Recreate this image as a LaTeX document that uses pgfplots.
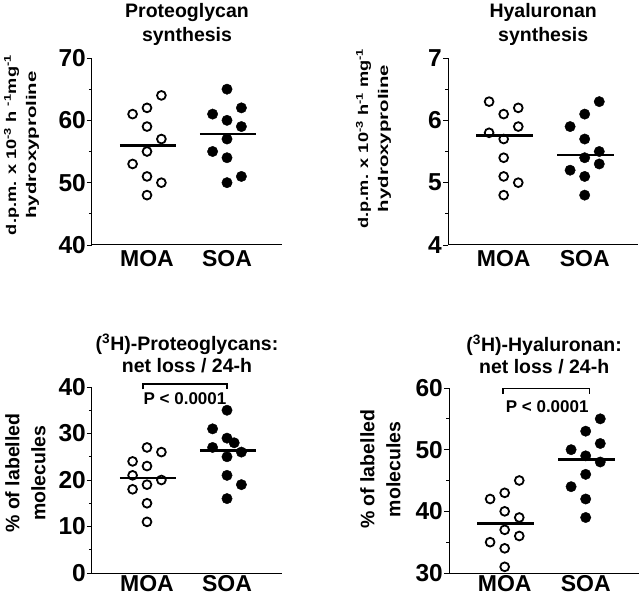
\documentclass[border=0pt]{standalone}
\usepackage{fontspec}
\setmainfont{Liberation Sans}
\usepackage{graphicx}
\usepackage{pgfplots}
\pgfplotsset{compat=1.18}

\pgfplotsset{
  dot/.style={
    scale only axis, clip=false,
    xmin=0.3125,
    axis x line*=bottom, axis y line*=left,
    axis line style={line width=1pt, -},
    xtick={1,2}, xticklabels={MOA,SOA},
    xtick style={draw=none},
    tick align=outside,
    major tick length=5pt, minor tick length=3pt,
    ytick style={line width=0.9pt, black},
    minor y tick num=1,
    /pgf/number format/assume math mode=true,
    yticklabel style={font=\fontsize{24.5}{27}\selectfont\bfseries, inner sep=1pt},
    xticklabel style={font=\fontsize{23}{26}\selectfont\bfseries, inner sep=0pt},
    every axis title/.style={at={(0.5,1)}, anchor=south, inner sep=0pt,
      align=center, font=\fontsize{19.5}{24}\selectfont\bfseries},
  },
  moa/.style={only marks, mark=o, mark size=4.4pt, black,
    mark options={line width=1.8pt}},
  soa/.style={only marks, mark=*, mark size=5.2pt, black,
    mark options={fill=black}},
  med/.style={black, line width=2.5pt, no marks},
  brk/.style={black, line width=1.5pt, no marks, sharp plot},
}

\begin{document}
\begin{tikzpicture}
\useasboundingbox (0pt,0pt) rectangle (640pt,595pt);

% top left: proteoglycan synthesis
\begin{axis}[dot, at={(92pt,350pt)}, width=190pt, height=187pt,
  xmax=2.6875, ymin=40, ymax=70, ytick={40,50,60,70},
  title={Proteoglycan\\synthesis},
  title style={yshift=12pt},
  ylabel={\scalebox{1.3}[1]{\begin{tabular}{@{}c@{}}d.p.m. x 10\textsuperscript{-3} h \textsuperscript{-1}mg\textsuperscript{-1}\\\scalebox{1.12}[1]{hydroxyproline}\end{tabular}}},
  ylabel style={at={(axis description cs:-0.368,0.535)}, anchor=center,
    font=\fontsize{14}{20}\selectfont\bfseries}]
  \addplot[moa] coordinates {(0.82,61)(1,62)(1.18,64)(1,59)(1.18,57)(1,55)(0.82,53)(1,51)(1.18,50)(1,48)};
  \addplot[soa] coordinates {(2,65)(1.82,61)(2.18,62)(2,60)(2.18,59)(2,57)(1.82,55)(2,54)(2.18,51)(2,50)};
  \addplot[med] coordinates {(0.66,56)(1.36,56)};
  \addplot[med] coordinates {(1.66,57.8)(2.36,57.8)};
\end{axis}

% top right: hyaluronan synthesis
\begin{axis}[dot, at={(448pt,350pt)}, width=188pt, height=187pt,
  xmax=2.6625, ymin=4, ymax=7, ytick={4,5,6,7},
  title={Hyaluronan\\synthesis},
  title style={yshift=12pt},
  ylabel={\scalebox{1.3}[1]{\begin{tabular}{@{}c@{}}d.p.m. x 10\textsuperscript{-3} h\textsuperscript{-1} mg\textsuperscript{-1}\\\scalebox{1.12}[1]{hydroxyproline}\end{tabular}}},
  ylabel style={at={(axis description cs:-0.388,0.57)}, anchor=center,
    font=\fontsize{14}{20}\selectfont\bfseries}]
  \addplot[moa] coordinates {(0.82,6.3)(1,6.1)(1.18,6.2)(0.82,5.8)(1.18,5.9)(1,5.7)(1,5.4)(1,5.1)(1.18,5.0)(1,4.8)};
  \addplot[soa] coordinates {(2.18,6.3)(2,6.1)(1.82,5.9)(2,5.7)(2.18,5.5)(2,5.4)(2.18,5.3)(1.82,5.2)(2,5.1)(2,4.8)};
  \addplot[med] coordinates {(0.66,5.76)(1.36,5.76)};
  \addplot[med] coordinates {(1.66,5.44)(2.36,5.44)};
\end{axis}

% bottom left: proteoglycan loss
\begin{axis}[dot, at={(92pt,22pt)}, width=190pt, height=186pt,
  xmax=2.6875, ymin=0, ymax=40, ytick={0,10,20,30,40},
  xticklabel style={yshift=3pt},
  title={(\textsuperscript{3}H)-Proteoglycans:\\net loss / 24-h},
  title style={yshift=14pt, font=\fontsize{19.5}{21.5}\selectfont\bfseries},
  ylabel={\% of labelled\\molecules},
  ylabel style={at={(axis description cs:-0.35,0.537)}, anchor=center,
    align=center, font=\fontsize{19.5}{26}\selectfont\bfseries}]
  \addplot[moa] coordinates {(1,27)(1.18,26)(0.82,24)(1,23)(0.82,21)(1.18,20)(1,19)(0.82,18)(1,15)(1,11)};
  \addplot[soa] coordinates {(2,35)(1.82,31)(2,29)(2.09,28)(1.82,27)(2.18,26)(2,25)(2,21)(2.18,19)(2,16)};
  \addplot[med] coordinates {(0.66,20.45)(1.36,20.45)};
  \addplot[med] coordinates {(1.66,26.3)(2.36,26.3)};
  \addplot[brk] coordinates {(0.95,39.5)(0.95,40.6)(2,40.6)(2,39.5)};
  \node[font=\fontsize{17}{20}\selectfont\bfseries] at (axis cs:1.475,37.4) {P < 0.0001};
\end{axis}

% bottom right: hyaluronan loss
\begin{axis}[dot, at={(449pt,22pt)}, width=188pt, height=185pt,
  xmax=2.6625, ymin=30, ymax=60, ytick={30,40,50,60},
  xticklabel style={yshift=3pt},
  title={(\textsuperscript{3}H)-Hyaluronan:\\net loss / 24-h},
  title style={yshift=14pt, font=\fontsize{19.5}{21.5}\selectfont\bfseries},
  ylabel={\% of labelled\\molecules},
  ylabel style={at={(axis description cs:-0.36,0.56)}, anchor=center,
    align=center, font=\fontsize{19.5}{26}\selectfont\bfseries}]
  \addplot[moa] coordinates {(1.18,45)(1,43)(0.82,42)(1,40)(1.18,39)(1,37)(1.18,36)(0.82,35)(1,34)(1,31)};
  \addplot[soa] coordinates {(2.18,55)(2,53)(2.18,51)(1.82,50)(2,49)(2.18,48)(2,46)(1.82,44)(2,42)(2,39)};
  \addplot[med] coordinates {(0.66,38.05)(1.36,38.05)};
  \addplot[med] coordinates {(1.66,48.4)(2.36,48.4)};
  \addplot[brk] coordinates {(0.98,59)(0.98,59.95)(2.05,59.95)(2.05,59)};
  \node[font=\fontsize{17}{20}\selectfont\bfseries] at (axis cs:1.525,57) {P < 0.0001};
\end{axis}
\end{tikzpicture}
\end{document}
